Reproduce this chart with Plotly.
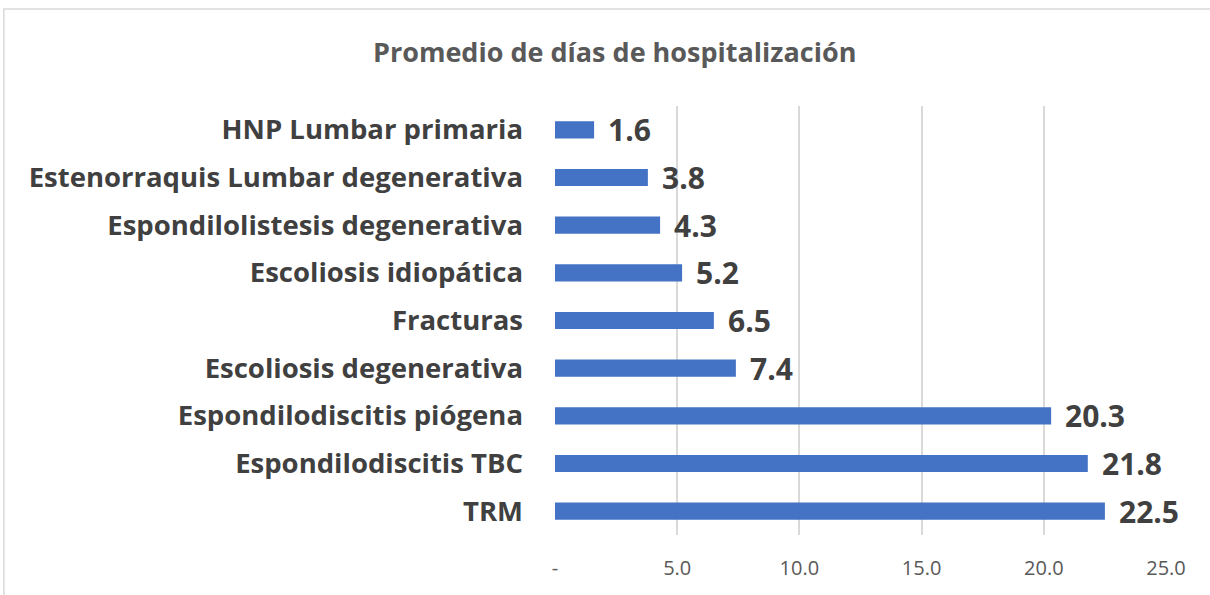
import plotly.graph_objects as go

categories = [
    "TRM",
    "Espondilodiscitis TBC",
    "Espondilodiscitis piógena",
    "Escoliosis degenerativa",
    "Fracturas",
    "Escoliosis idiopática",
    "Espondilolistesis degenerativa",
    "Estenorraquis Lumbar degenerativa",
    "HNP Lumbar primaria",
]
values = [22.5, 21.8, 20.3, 7.4, 6.5, 5.2, 4.3, 3.8, 1.6]
tick_vals = [0, 5, 10, 15, 20, 25]
tick_text = ["-", "5.0", "10.0", "15.0", "20.0", "25.0"]
title_text = "Promedio de días de hospitalización"

FONT = "Open Sans"

fig = go.Figure()
fig.add_trace(go.Bar(
    x=values, y=categories, orientation="h",
    marker=dict(color="#4472C4", line=dict(width=0)),
    width=0.36, hoverinfo="x+y",
))

annotations = [
    dict(x=v, y=c, xref="x", yref="y", text=f"{v:.1f}", showarrow=False,
         xanchor="left", yanchor="middle", xshift=12,
         font=dict(family=FONT, size=30, color="#404040", weight="bold"))
    for v, c in zip(values, categories)
]

fig.update_layout(
    width=1210, height=595,
    paper_bgcolor="white", plot_bgcolor="white",
    margin=dict(l=555, r=44, t=106, b=60),
    showlegend=False,
    title=dict(text=title_text, x=0.508, xanchor="center", y=0.912, yanchor="middle",
               font=dict(family=FONT, size=27, color="#595959", weight="bold")),
    annotations=annotations,
    shapes=[dict(type="rect", xref="paper", yref="paper",
                 x0=-0.902, x1=1.12, y0=-0.2, y1=1.226,
                 line=dict(color="#d9d9d9", width=1.5), layer="below")],
)
fig.update_xaxes(range=[0, 25], tickvals=tick_vals, ticktext=tick_text,
                 showgrid=True, gridcolor="#d9d9d9", gridwidth=1.5,
                 zeroline=False, showline=False, ticks="",
                 ticklabelstandoff=19,
                 tickfont=dict(family=FONT, size=20, color="#595959"))
fig.update_yaxes(categoryorder="array", categoryarray=categories,
                 showgrid=False, zeroline=False, showline=False, ticks="",
                 ticklabelstandoff=31,
                 tickfont=dict(family=FONT, size=27.5, color="#404040", weight="bold"))

fig.write_html("out.html", config={"displayModeBar": False},
               post_script="document.body.style.margin='0';")
